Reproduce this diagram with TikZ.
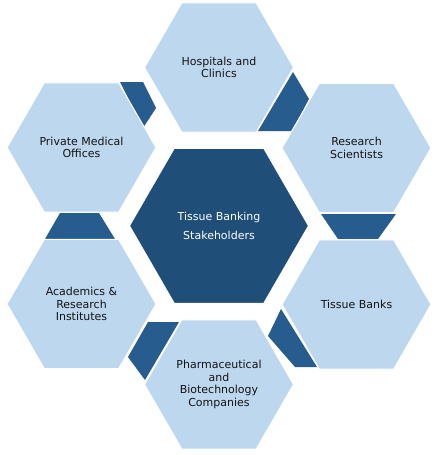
\documentclass[tikz,border=0pt]{standalone}
\usepackage{fontspec}
\setmainfont{DejaVu Sans}
\usetikzlibrary{shapes.geometric}
\definecolor{lightblue}{RGB}{189,215,238}
\definecolor{darkpiece}{RGB}{38,92,142}
\definecolor{centerblue}{RGB}{31,78,121}
\definecolor{txt}{RGB}{20,20,20}
\tikzset{
  hexbase/.style={regular polygon, regular polygon sides=6, inner sep=0pt, outer sep=0pt, align=center},
  outerhex/.style={hexbase, minimum size=149pt, fill=lightblue, draw=white, line width=1pt, text=txt,
    font=\fontsize{11}{12.6}\selectfont},
  centerhex/.style={hexbase, minimum size=179pt, fill=centerblue, draw=white, line width=1pt, text=white,
    font=\fontsize{11}{18.4}\selectfont},
  linkpiece/.style={fill=darkpiece}
}
\begin{document}
\begin{tikzpicture}[x=1pt,y=-1pt]
\useasboundingbox (0,0) rectangle (436,455);
\fill[white] (0,0) rectangle (436,455);
% dark link pieces between neighbouring hexagons
\fill[linkpiece] (258,131) -- (293,72) -- (309,99) -- (292,131) -- cycle;
\fill[linkpiece] (321,214) -- (396,214) -- (378,239) -- (338,239) -- cycle;
\fill[linkpiece] (281,309) -- (317,367) -- (295,367) -- (268,336) -- cycle;
\fill[linkpiece] (148,322) -- (179,322) -- (145,380) -- (128,357) -- cycle;
\fill[linkpiece] (60,213) -- (99,213) -- (115,239) -- (45,239) -- cycle;
\fill[linkpiece] (120,82) -- (143,82) -- (156,108) -- (143,128) -- cycle;
% hexagons
\node[centerhex] (center) at (219,225.8) {Tissue Banking\\Stakeholders};
\node[outerhex] (hosp) at (219,67.5) {Hospitals and\\Clinics};
\node[outerhex] (research) at (356.5,148) {Research\\Scientists};
\node[outerhex] (banks) at (356.5,304.5) {Tissue Banks};
\node[outerhex] (pharma) at (219,384.5) {Pharmaceutical\\and\\Biotechnology\\Companies};
\node[outerhex] (academics) at (81.5,304) {Academics \&\\Research\\Institutes};
\node[outerhex] (private) at (81.5,147.5) {Private Medical\\Offices};
\end{tikzpicture}
\end{document}
